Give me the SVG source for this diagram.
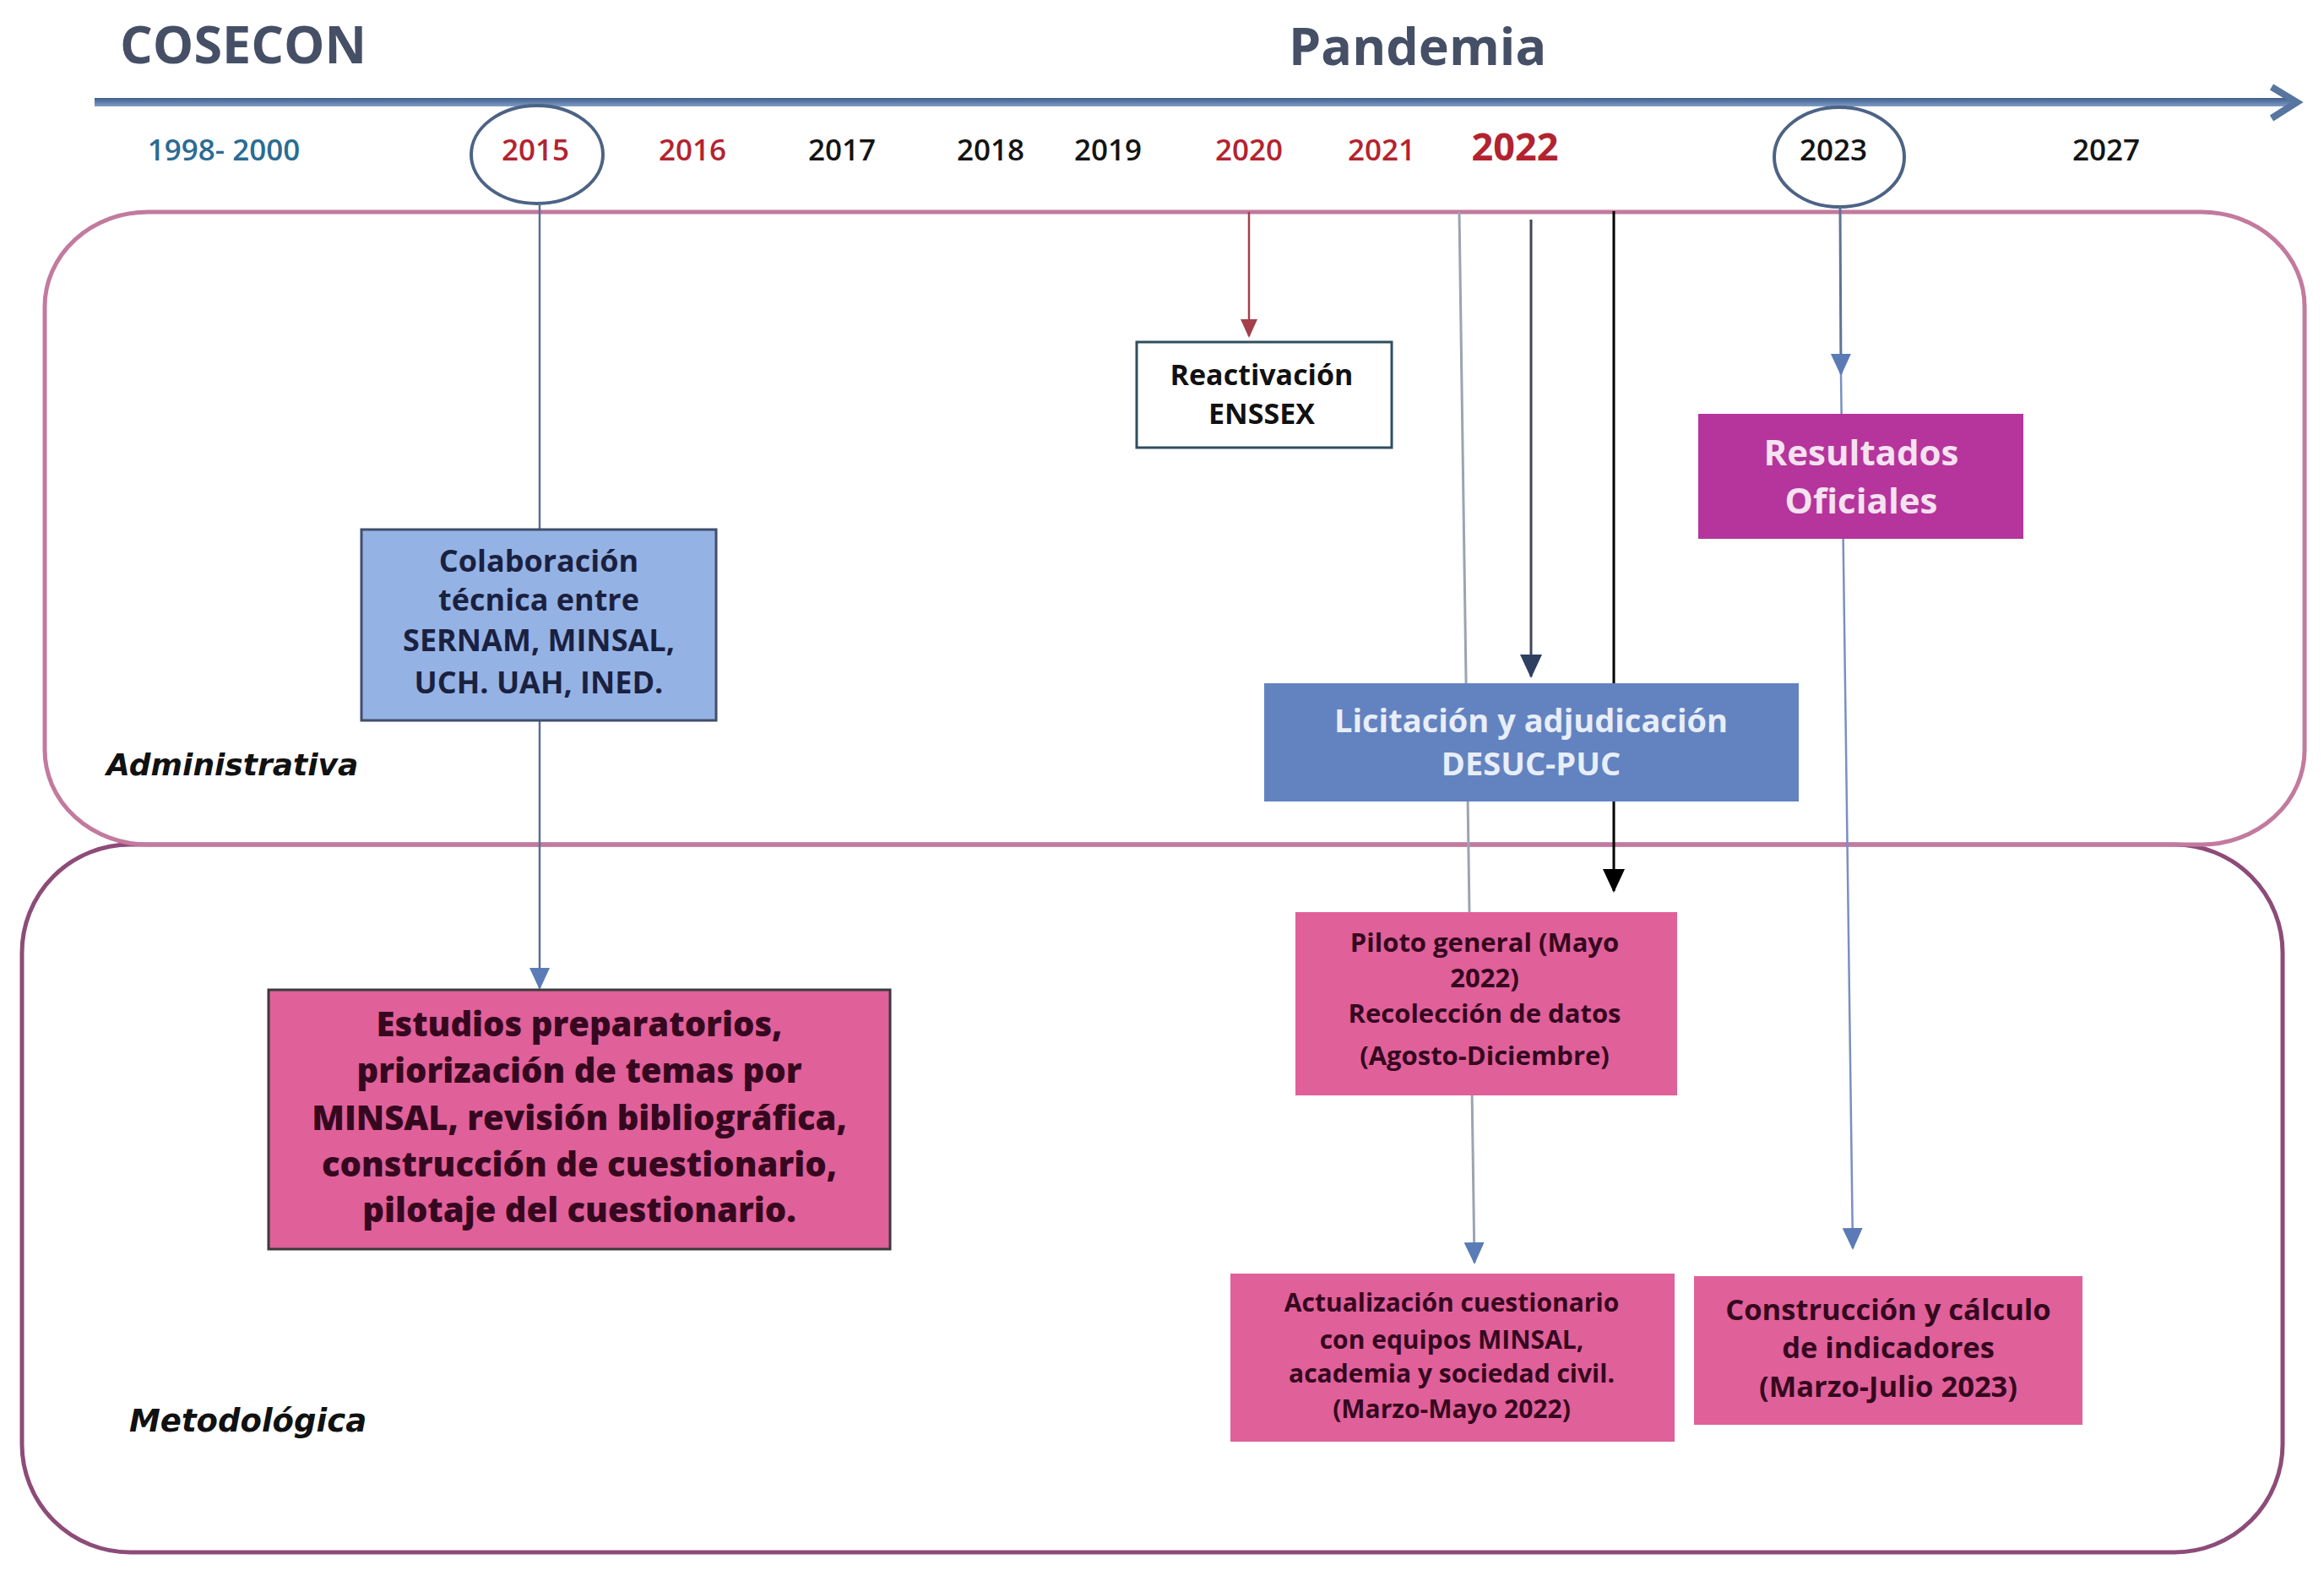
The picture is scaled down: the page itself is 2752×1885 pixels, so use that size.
<svg xmlns="http://www.w3.org/2000/svg" width="2752" height="1885" viewBox="0 0 2752 1885">
<defs>
<style>
.t{font-family:"Open Sans","Noto Sans","DejaVu Sans",sans-serif;font-weight:700;text-anchor:middle}
.yr{font-family:"Open Sans","Noto Sans",sans-serif;font-weight:600;font-size:35px;text-anchor:middle}
.red{fill:#B3232F}
.blk{fill:#141414}
.lbl{font-family:"DejaVu Sans",Lato,sans-serif;font-weight:700;font-style:italic;fill:#111}
.title{font-family:"Open Sans","Noto Sans",sans-serif;font-weight:700;font-size:61px;fill:#454F66}
.pink{fill:#E0609A}
.pinktxt{fill:#36081F}
</style>
<linearGradient id="tl" x1="0" y1="0" x2="0" y2="1">
<stop offset="0" stop-color="#3F5F8E"/>
<stop offset="1" stop-color="#7F9CC4"/>
</linearGradient>
<marker id="aBlue" markerUnits="userSpaceOnUse" markerWidth="26" markerHeight="26" viewBox="0 0 26 26" refX="24" refY="13" orient="auto"><path d="M0,1 L26,13 L0,25 z" fill="#5A7BB6"/></marker>
<marker id="aNavy" markerUnits="userSpaceOnUse" markerWidth="28" markerHeight="28" viewBox="0 0 28 28" refX="26" refY="14" orient="auto"><path d="M0,1 L28,14 L0,27 z" fill="#2F3F62"/></marker>
<marker id="aRed" markerUnits="userSpaceOnUse" markerWidth="22" markerHeight="22" viewBox="0 0 22 22" refX="20" refY="11" orient="auto"><path d="M0,1 L22,11 L0,21 z" fill="#A3404C"/></marker>
<marker id="aBlack" markerUnits="userSpaceOnUse" markerWidth="28" markerHeight="28" viewBox="0 0 28 28" refX="26" refY="14" orient="auto"><path d="M0,1 L28,14 L0,27 z" fill="#000"/></marker>
</defs>
<rect width="2752" height="1885" fill="#fff"/>

<g id="titles">
<text class="title" x="142" y="75">COSECON</text>
<text class="title" x="1526" y="77">Pandemia</text>
</g>

<g id="timeline">
<rect x="112" y="116" width="2600" height="10" fill="url(#tl)"/>
<polyline points="2690,103 2720,121 2690,140" fill="none" stroke="#5676A0" stroke-width="8" stroke-linejoin="miter"/>
</g>

<g id="years">
<text class="yr" x="265" y="190" fill="#2B6B93">1998- 2000</text>
<text class="yr red" x="634" y="190">2015</text>
<text class="yr red" x="820" y="190">2016</text>
<text class="yr blk" x="997" y="190">2017</text>
<text class="yr blk" x="1173" y="190">2018</text>
<text class="yr blk" x="1312" y="190">2019</text>
<text class="yr red" x="1479" y="190">2020</text>
<text class="yr red" x="1636" y="190">2021</text>
<text class="yr red" x="1794" y="190" style="font-size:45px;font-weight:700">2022</text>
<text class="yr blk" x="2171" y="190">2023</text>
<text class="yr blk" x="2494" y="190">2027</text>
<ellipse cx="636" cy="183" rx="78" ry="58" fill="none" stroke="#4C6385" stroke-width="4"/>
<ellipse cx="2178" cy="186" rx="77" ry="59" fill="none" stroke="#4C6385" stroke-width="4"/>
</g>

<g id="panel-metodologica">
<rect x="26" y="1000" width="2677" height="838" rx="128" ry="128" fill="none" stroke="#8D4C78" stroke-width="5"/>
<text class="lbl" x="153" y="1695" font-size="37">Metodológica</text>
</g>
<g id="panel-administrativa">
<rect x="53" y="251" width="2676" height="749" rx="122" ry="112" fill="none" stroke="#C27A9E" stroke-width="5"/>
<text class="lbl" x="126" y="918" font-size="36">Administrativa</text>
</g>

<g id="connectors" fill="none">
<path d="M639,241 L639,1170" stroke="#5C6F92" stroke-width="2.5" marker-end="url(#aBlue)"/>
<path d="M1479,251 L1479,398" stroke="#A3404C" stroke-width="2.5" marker-end="url(#aRed)"/>
<path d="M1728,251 L1746,1495" stroke="#9CA4B2" stroke-width="3" marker-end="url(#aBlue)"/>
<path d="M1813,260 L1813,801" stroke="#3E4658" stroke-width="3" marker-end="url(#aNavy)"/>
<path d="M1911,250 L1911,1055" stroke="#000" stroke-width="3" marker-end="url(#aBlack)"/>
<path d="M2179,245 L2180,443" stroke="#5E7498" stroke-width="3" marker-end="url(#aBlue)"/>
<path d="M2180,443 L2194,1478" stroke="#7A90C2" stroke-width="2.5" marker-end="url(#aBlue)"/>
</g>

<g id="node-colaboracion">
<rect x="428" y="627" width="420" height="226" fill="#95B2E4" stroke="#3F4F6C" stroke-width="3"/>
<text class="t" font-size="36" fill="#1A2140"><tspan x="638" y="677">Colaboración</tspan><tspan x="638" y="723">técnica entre</tspan><tspan x="638" y="771">SERNAM, MINSAL,</tspan><tspan x="638" y="821">UCH. UAH, INED.</tspan></text>
</g>

<g id="node-estudios">
<rect x="318" y="1172" width="736" height="307" class="pink" stroke="#3A3A3A" stroke-width="3"/>
<text class="t pinktxt" font-size="40" style="font-weight:800"><tspan x="686" y="1227">Estudios preparatorios,</tspan><tspan x="686" y="1282">priorización de temas por</tspan><tspan x="686" y="1338">MINSAL, revisión bibliográfica,</tspan><tspan x="686" y="1393">construcción de cuestionario,</tspan><tspan x="686" y="1447">pilotaje del cuestionario.</tspan></text>
</g>

<g id="node-reactivacion">
<rect x="1346" y="405" width="302" height="125" fill="#fff" stroke="#2F4E60" stroke-width="3"/>
<text class="t" font-size="34" fill="#111"><tspan x="1494" y="456">Reactivación</tspan><tspan x="1494" y="502">ENSSEX</tspan></text>
</g>

<g id="node-licitacion">
<rect x="1497" y="809" width="633" height="140" fill="#6383C0"/>
<text class="t" font-size="38" fill="#E8EEF9"><tspan x="1813" y="867">Licitación y adjudicación</tspan><tspan x="1813" y="918">DESUC-PUC</tspan></text>
</g>

<g id="node-resultados">
<rect x="2011" y="490" width="385" height="148" fill="#B5359C"/>
<text class="t" font-size="42" fill="#F5E2F1"><tspan x="2204" y="551">Resultados</tspan><tspan x="2204" y="608">Oficiales</tspan></text>
</g>

<g id="node-piloto">
<rect x="1534" y="1080" width="452" height="217" class="pink"/>
<text class="t pinktxt" font-size="31"><tspan x="1758" y="1127">Piloto general (Mayo</tspan><tspan x="1758" y="1169">2022)</tspan><tspan x="1758" y="1211">Recolección de datos</tspan><tspan x="1758" y="1261">(Agosto-Diciembre)</tspan></text>
</g>

<g id="node-actualizacion">
<rect x="1457" y="1508" width="526" height="199" class="pink"/>
<text class="t pinktxt" font-size="30"><tspan x="1719" y="1553">Actualización cuestionario</tspan><tspan x="1719" y="1597">con equipos MINSAL,</tspan><tspan x="1719" y="1637">academia y sociedad civil.</tspan><tspan x="1719" y="1679">(Marzo-Mayo 2022)</tspan></text>
</g>

<g id="node-construccion">
<rect x="2006" y="1511" width="460" height="176" class="pink"/>
<text class="t pinktxt" font-size="34.5"><tspan x="2236" y="1563">Construcción y cálculo</tspan><tspan x="2236" y="1608">de indicadores</tspan><tspan x="2236" y="1654">(Marzo-Julio 2023)</tspan></text>
</g>
</svg>
